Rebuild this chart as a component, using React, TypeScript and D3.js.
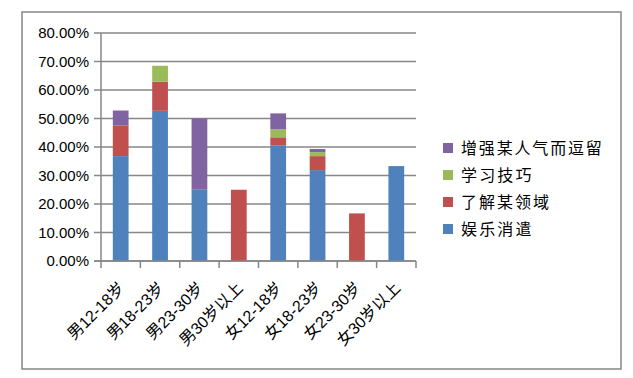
import React from "react";
import * as d3 from "d3";

const categories = ["男12-18岁", "男18-23岁", "男23-30岁", "男30岁以上", "女12-18岁", "女18-23岁", "女23-30岁", "女30岁以上"];
const seriesNames = ["娱乐消遣", "了解某领域", "学习技巧", "增强某人气而逗留"];
const entertainment = [36.8, 52.7, 25.0, 0, 40.6, 31.9, 0, 33.3];
const learnField = [10.8, 10.2, 0, 25.0, 2.8, 4.9, 16.7, 0];
const learnSkill = [0, 5.6, 0, 0, 2.8, 1.4, 0, 0];
const popularity = [5.2, 0, 25.0, 0, 5.6, 1.1, 0, 0];
const yTicks = [0, 10, 20, 30, 40, 50, 60, 70, 80];
const colors = ["#4F81BD", "#C0504D", "#9BBB59", "#8064A2"];

const W = 633, H = 378;
const plotL = 101, plotR = 416, plotT = 33, plotB = 261;
const gray = "#878787";

export default function App() {
  const seriesValues = [entertainment, learnField, learnSkill, popularity];
  const rows = categories.map((c, i) => {
    const r: any = { cat: c };
    seriesNames.forEach((s, k) => (r[s] = seriesValues[k][i]));
    return r;
  });
  const stacked = d3.stack().keys(seriesNames)(rows);
  const x = d3.scaleBand().domain(categories).range([plotL, plotR]).paddingInner(0.6).paddingOuter(0.3);
  const xb = d3.scaleBand().domain(categories).range([plotL, plotR]);
  const y = d3.scaleLinear().domain([0, 80]).range([plotB, plotT]);
  const fmt = (v: number) => v.toFixed(2) + "%";
  const legendOrder = [3, 2, 1, 0];
  return (
    <svg width={W} height={H} style={{ position: "absolute", left: 0, top: 0 }}>
      <rect x={0} y={0} width={W} height={H} fill="#fff" />
      <rect x={22} y={12} width={599} height={357} fill="none" stroke={gray} strokeWidth={1.5} />
      {yTicks.map((t) => (
        <g key={t}>
          <line x1={plotL - 7} x2={plotR} y1={y(t)} y2={y(t)} stroke={gray} strokeWidth={1.5} />
          <text x={89} y={y(t)} dy="0.36em" textAnchor="end" fontFamily="Liberation Sans, Arial, sans-serif" fontSize={15} fill="#000">{fmt(t)}</text>
        </g>
      ))}
      {stacked.map((s, k) => (
        <g key={s.key} fill={colors[k]}>
          {s.map((d, i) => (d[1] - d[0] > 0 ? (
            <rect key={i} x={x(categories[i])} width={x.bandwidth()} y={y(d[1])} height={y(d[0]) - y(d[1])} />
          ) : null))}
        </g>
      ))}
      <line x1={plotL} x2={plotL} y1={plotT} y2={plotB + 7} stroke={gray} strokeWidth={1.5} />
      <line x1={plotL - 7} x2={plotR} y1={plotB} y2={plotB} stroke={gray} strokeWidth={1.5} />
      {categories.map((c, i) => (
        <line key={c} x1={(xb(c) as number) + xb.bandwidth()} x2={(xb(c) as number) + xb.bandwidth()} y1={plotB} y2={plotB + 7} stroke={gray} strokeWidth={1.5} />
      ))}
      {categories.map((c) => {
        const cx = (xb(c) as number) + xb.bandwidth() / 2 + 5;
        return (
          <text key={c} transform={`translate(${cx},${plotB + 28}) rotate(-45)`} textAnchor="end" fontFamily="Liberation Sans, Noto Sans CJK SC, sans-serif" fontSize={16} fill="#000">{c}</text>
        );
      })}
      {legendOrder.map((k, j) => (
        <g key={k} transform={`translate(443,${148 + j * 27})`}>
          <rect x={0} y={-5} width={10} height={10} fill={colors[k]} />
          <text x={18} y={0} dy="0.36em" fontFamily="Noto Sans CJK SC, sans-serif" fontSize={16} fill="#000" textLength={seriesNames[k].length * 17.6} lengthAdjust="spacing">{seriesNames[k]}</text>
        </g>
      ))}
    </svg>
  );
}
